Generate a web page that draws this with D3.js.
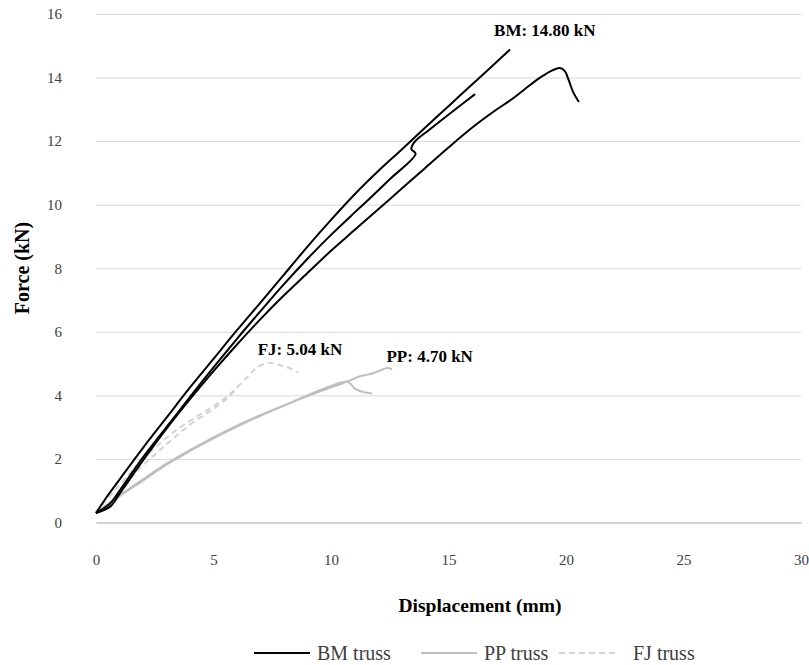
<!DOCTYPE html>
<html>
<head>
<meta charset="utf-8">
<script src="https://cdn.jsdelivr.net/npm/d3@7"></script>
<style>
  body { margin: 0; background: #fff; }
  svg { display: block; font-family: 'Liberation Serif', 'Times New Roman', serif; }
  .tick text { fill: #404040; font-size: 15px; font-family: 'Liberation Serif', 'Times New Roman', serif; }
</style>
</head>
<body>
<svg id="chart" width="809" height="665"></svg>
<script>
// readings: [displacement (mm), force (kN)]
const bm1 = [[0, 0.3], [0.5, 0.85], [1, 1.35], [2, 2.35], [3, 3.3], [4, 4.25], [5, 5.15], [6, 6.05],
  [7, 6.92], [8, 7.8], [9, 8.68], [10, 9.52], [11, 10.32], [12, 11.05], [13, 11.73], [14, 12.42],
  [15, 13.1], [16, 13.78], [17, 14.46], [17.62, 14.88]];
const bm2 = [[0, 0.3], [0.6, 0.6], [1, 1.0], [2, 2.05], [3, 3.0], [4, 3.95], [5, 4.88], [6, 5.78],
  [7, 6.65], [8, 7.5], [9, 8.3], [10, 9.05], [11, 9.75], [11.57, 10.14], [12.5, 10.8], [13.6, 11.6],
  [13.42, 11.75], [13.55, 11.97], [14.17, 12.35], [15.2, 12.95], [16.13, 13.48]];
const bm3 = [[0, 0.3], [0.6, 0.5], [1, 0.9], [2, 1.95], [3, 2.95], [4, 3.88], [5, 4.76], [6, 5.6],
  [7, 6.4], [8, 7.15], [9, 7.85], [10, 8.55], [11, 9.2], [12, 9.85], [13, 10.5], [14, 11.15],
  [15, 11.8], [16, 12.42], [17, 12.97], [17.66, 13.3], [18.5, 13.78], [18.94, 14.02], [19.4, 14.22],
  [19.74, 14.3], [19.95, 14.2], [20.1, 13.95], [20.3, 13.55], [20.55, 13.23]];
const pp1 = [[0, 0.3], [0.5, 0.58], [1, 0.85], [2, 1.36], [3, 1.85], [4, 2.28], [5, 2.68], [6, 3.05],
  [7, 3.38], [8, 3.68], [9, 3.98], [10, 4.25], [10.5, 4.38], [10.9, 4.5], [11.23, 4.6], [11.6, 4.66],
  [12.09, 4.78], [12.38, 4.86], [12.6, 4.82]];
const pp2 = [[0, 0.3], [0.5, 0.55], [1, 0.82], [2, 1.32], [3, 1.82], [4, 2.25], [5, 2.65], [6, 3.02],
  [7, 3.36], [8, 3.68], [9, 4.0], [9.8, 4.24], [10.47, 4.41], [10.7, 4.43], [10.85, 4.35],
  [11.0, 4.22], [11.3, 4.12], [11.74, 4.06]];
const fj1 = [[0, 0.3], [0.5, 0.75], [1.15, 1.3], [1.87, 1.9], [2.5, 2.35], [3.28, 2.83], [4.0, 3.2],
  [4.72, 3.53], [5.4, 3.86], [6.0, 4.25], [6.5, 4.62], [6.85, 4.88], [7.28, 5.02], [7.6, 5.0],
  [7.83, 4.95], [8.26, 4.85], [8.6, 4.72]];
const fj2 = [[0, 0.3], [0.5, 0.45], [0.9, 0.75], [1.6, 1.5], [2.6, 2.2], [3.3, 2.65], [4.0, 3.08],
  [4.6, 3.38], [5.15, 3.65], [5.6, 3.92], [6.0, 4.22]];

const xTicks = [0, 5, 10, 15, 20, 25, 30];
const yTicks = [0, 2, 4, 6, 8, 10, 12, 14, 16];
const peakLabels = [
  { text: 'BM: 14.80 kN', at: [19.1, 15.3] },
  { text: 'FJ: 5.04 kN', at: [8.68, 5.27] },
  { text: 'PP: 4.70 kN', at: [14.2, 5.05] }
];
const legendNames = ['BM truss', 'PP truss', 'FJ truss'];

// series styles
const styles = {
  bm: { stroke: '#000000', dash: null },
  pp: { stroke: '#bfbfbf', dash: null },
  fj: { stroke: '#d3d3d3', dash: '6,4' }
};
const series = [
  { key: 'fj', points: fj1 }, { key: 'fj', points: fj2 },
  { key: 'pp', points: pp1 }, { key: 'pp', points: pp2 },
  { key: 'bm', points: bm1 }, { key: 'bm', points: bm2 }, { key: 'bm', points: bm3 }
];

const svg = d3.select('#chart');

const x = d3.scaleLinear().domain([0, 30]).range([96, 801]);
const y = d3.scaleLinear().domain([0, 16]).range([522.5, 14]);

// grid lines
svg.append('g')
  .attr('transform', 'translate(96,0)')
  .call(d3.axisLeft(y).tickValues(yTicks.slice(1)).tickSize(-(801 - 96)).tickFormat(''))
  .call((g) => g.select('.domain').remove())
  .call((g) => g.selectAll('line').attr('stroke', '#d9d9d9').attr('stroke-width', 1));

// y axis labels
svg.append('g')
  .attr('transform', 'translate(96,0)')
  .call(d3.axisLeft(y).tickValues(yTicks).tickSize(0).tickPadding(34))
  .call((g) => g.select('.domain').remove());

// x axis
svg.append('g')
  .attr('transform', `translate(0,${y(0)})`)
  .call(d3.axisBottom(x).tickValues(xTicks).tickSize(0).tickPadding(32))
  .call((g) => g.select('.domain').attr('stroke', '#d0d0d0').attr('stroke-width', 2));

// curves
const line = d3.line()
  .x((d) => x(d[0]))
  .y((d) => y(d[1]))
  .curve(d3.curveCatmullRom.alpha(0.5));

svg.append('g')
  .selectAll('path')
  .data(series)
  .enter()
  .append('path')
  .attr('d', (d) => line(d.points))
  .attr('fill', 'none')
  .attr('stroke', (d) => styles[d.key].stroke)
  .attr('stroke-width', 2)
  .attr('stroke-dasharray', (d) => styles[d.key].dash);

// peak labels
svg.append('g')
  .selectAll('text')
  .data(peakLabels)
  .enter()
  .append('text')
  .attr('x', (d) => x(d.at[0]))
  .attr('y', (d) => y(d.at[1]))
  .attr('text-anchor', 'middle')
  .attr('font-size', 17)
  .attr('font-weight', 'bold')
  .attr('fill', '#000')
  .text((d) => d.text);

// axis titles
svg.append('text')
  .attr('x', 480)
  .attr('y', 612)
  .attr('text-anchor', 'middle')
  .attr('font-size', 19.5)
  .attr('font-weight', 'bold')
  .text('Displacement (mm)');

svg.append('text')
  .attr('transform', 'translate(29,268) rotate(-90)')
  .attr('text-anchor', 'middle')
  .attr('font-size', 20)
  .attr('font-weight', 'bold')
  .text('Force (kN)');

// legend
const legendKeys = ['bm', 'pp', 'fj'];
const legendX = [254, 421, 559];
const legend = svg.append('g').attr('transform', 'translate(0,653)');
legendKeys.forEach((k, i) => {
  legend.append('line')
    .attr('x1', legendX[i]).attr('x2', legendX[i] + 56)
    .attr('y1', 0).attr('y2', 0)
    .attr('stroke', styles[k].stroke)
    .attr('stroke-width', 2)
    .attr('stroke-dasharray', styles[k].dash);
  legend.append('text')
    .attr('x', legendX[i] + (k === 'fj' ? 74 : 63))
    .attr('y', 6.5)
    .attr('font-size', 20)
    .attr('fill', '#404040')
    .text(legendNames[i]);
});
</script>
</body>
</html>
